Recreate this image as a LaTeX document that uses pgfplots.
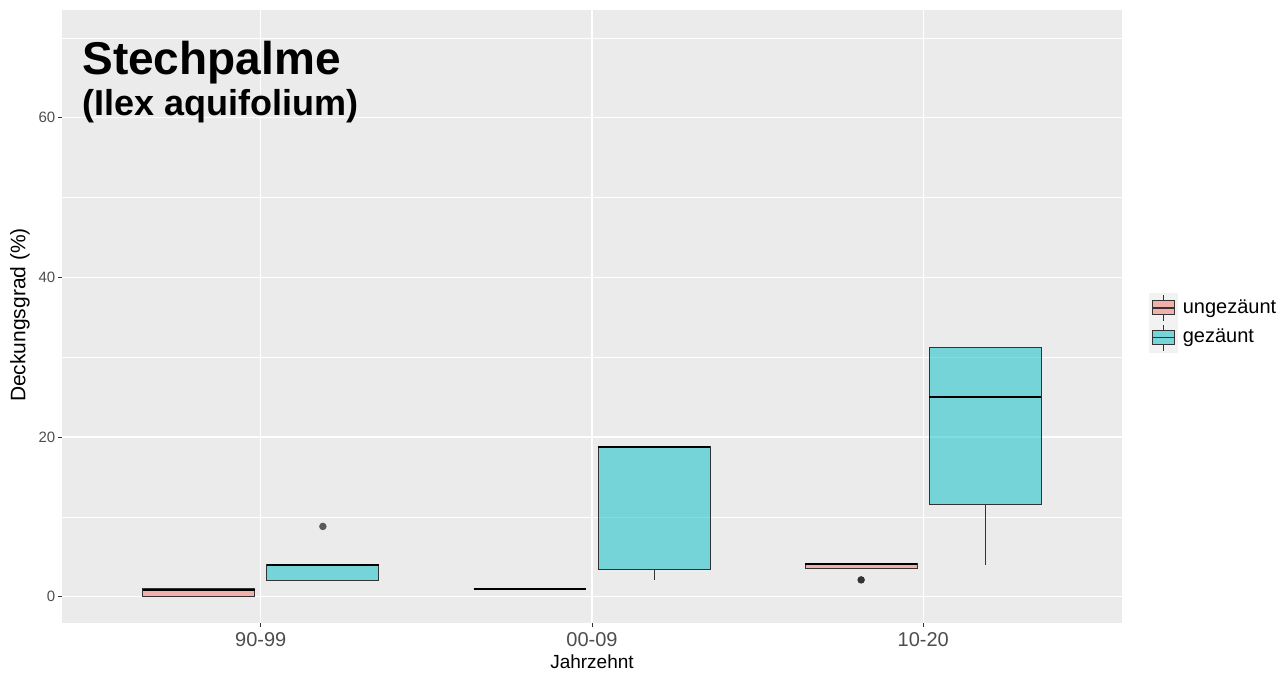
\documentclass[border=0pt]{standalone}
\usepackage{fontspec}
\setmainfont{Liberation Sans}
\usepackage{pgfplots}
\pgfplotsset{compat=1.18}
\usepgfplotslibrary{statistics}
\definecolor{ggbg}{RGB}{235,235,235}
\definecolor{ggpink}{RGB}{248,118,109}
\definecolor{ggcyan}{RGB}{0,191,196}
\definecolor{ggtick}{RGB}{77,77,77}
\definecolor{ggline}{RGB}{51,51,51}
\definecolor{keybg}{RGB}{242,242,242}
\begin{document}
\begin{tikzpicture}
\begin{axis}[
  scale only axis, width=530pt, height=306.5pt,
  xmin=0.4, xmax=3.6, ymin=-3.3, ymax=73.5,
  xtick={1,2,3}, xticklabels={90-99,00-09,10-20},
  ytick={0,20,40,60}, minor ytick={10,30,50,70},
  axis background/.style={fill=ggbg},
  axis line style={draw=none},
  xmajorgrids, ymajorgrids, yminorgrids,
  major grid style={white, line width=0.6pt},
  minor grid style={white, line width=0.3pt},
  tick align=outside, major tick length=2.2pt, minor tick length=0pt,
  tick style={ggline, line width=0.5pt},
  xtick pos=lower, ytick pos=left,
  /pgf/number format/assume math mode=true,
  yticklabel style={font=\fontsize{7.5}{9}\selectfont, text=ggtick, inner sep=1pt},
  xticklabel style={font=\fontsize{10}{12}\selectfont, text=ggtick, inner sep=1pt, yshift=-1.5pt},
  boxplot/draw direction=y,
  boxplot/every median/.style={line width=1.1pt, draw=black},
  legend style={at={(axis description cs:1,0.49)}, anchor=west, xshift=13.5pt,
    draw=none, fill=none, inner sep=0pt, outer sep=0pt, row sep=0pt, column sep=2.5pt,
    nodes={inner sep=0pt, font=\fontsize{10}{12}\selectfont, minimum height=14.5pt}},
  legend cell align=left,
]
% 90-99
\addplot[boxplot prepared={draw position=0.8125, lower whisker=0, lower quartile=0, median=0.8, upper quartile=1, upper whisker=1, box extend=0.3375, whisker extend=0}, draw=ggline, fill=ggpink, fill opacity=0.5, line width=0.5pt, forget plot] coordinates {};
\addplot[boxplot prepared={draw position=1.1875, lower whisker=2, lower quartile=2, median=4, upper quartile=4, upper whisker=4, box extend=0.3375, whisker extend=0}, draw=ggline, fill=ggcyan, fill opacity=0.5, line width=0.5pt, mark=*, mark size=1.6pt, mark options={fill=black!65, draw=black!65, fill opacity=1}, forget plot] coordinates {(0,8.8)};
% 00-09
\addplot[boxplot prepared={draw position=1.8125, lower whisker=1, lower quartile=1, median=1, upper quartile=1, upper whisker=1, box extend=0.3375, whisker extend=0}, draw=ggline, fill=ggpink, fill opacity=0.5, line width=0.5pt, forget plot] coordinates {};
\addplot[boxplot prepared={draw position=2.1875, lower whisker=2.1, lower quartile=3.45, median=18.8, upper quartile=18.8, upper whisker=18.8, box extend=0.3375, whisker extend=0}, draw=ggline, fill=ggcyan, fill opacity=0.5, line width=0.5pt, forget plot] coordinates {};
% 10-20
\addplot[boxplot prepared={draw position=2.8125, lower whisker=3.5, lower quartile=3.5, median=4.1, upper quartile=4.1, upper whisker=4.1, box extend=0.3375, whisker extend=0}, draw=ggline, fill=ggpink, fill opacity=0.5, line width=0.5pt, mark=*, mark size=1.6pt, mark options={fill=black!80, draw=black!80, fill opacity=1}, forget plot] coordinates {(0,2.1)};
\addplot[boxplot prepared={draw position=3.1875, lower whisker=4, lower quartile=11.6, median=25, upper quartile=31.25, upper whisker=31.25, box extend=0.3375, whisker extend=0}, draw=ggline, fill=ggcyan, fill opacity=0.5, line width=0.5pt, forget plot] coordinates {};
\addlegendimage{legend image code/.code={
  \fill[keybg] (0pt,-7.25pt) rectangle (14pt,7.25pt);
  \draw[ggline, line width=0.5pt] (7pt,-6.5pt) -- (7pt,6.5pt);
  \fill[ggpink!50!ggbg] (1.5pt,-3.5pt) rectangle (12.5pt,3.5pt);
  \draw[ggline, line width=0.5pt] (1.5pt,-3.5pt) rectangle (12.5pt,3.5pt);
  \draw[ggline, line width=0.8pt] (1.5pt,0pt) -- (12.5pt,0pt);
}}
\addlegendentry{ungezäunt}
\addlegendimage{legend image code/.code={
  \fill[keybg] (0pt,-7.25pt) rectangle (14pt,7.25pt);
  \draw[ggline, line width=0.5pt] (7pt,-6.5pt) -- (7pt,6.5pt);
  \fill[ggcyan!50!ggbg] (1.5pt,-3.5pt) rectangle (12.5pt,3.5pt);
  \draw[ggline, line width=0.5pt] (1.5pt,-3.5pt) rectangle (12.5pt,3.5pt);
  \draw[ggline, line width=0.8pt] (1.5pt,0pt) -- (12.5pt,0pt);
}}
\addlegendentry{gezäunt}
\end{axis}
\node[anchor=base west, font=\bfseries\fontsize{23}{27}\selectfont, inner sep=0pt] at (10pt,274pt) {Stechpalme};
\node[anchor=base west, font=\bfseries\fontsize{18}{21}\selectfont, inner sep=0pt] at (10pt,253.5pt) {(Ilex aquifolium)};
\node[anchor=base, font=\fontsize{9.5}{11}\selectfont, inner sep=0pt] at (265pt,-22.5pt) {Jahrzehnt};
\node[rotate=90, anchor=center, font=\fontsize{10.5}{12}\selectfont, inner sep=0pt] at (-21pt,154pt) {Deckungsgrad (\%)};
\pgfresetboundingbox
\path[use as bounding box] (-31pt,-26.5pt) rectangle (612pt,311.5pt);
\end{tikzpicture}
\end{document}
